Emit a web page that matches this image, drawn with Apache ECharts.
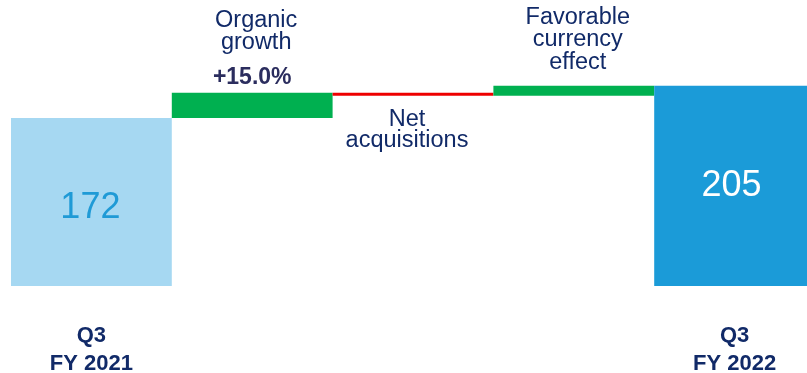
<!DOCTYPE html>
<html>
<head>
<meta charset="utf-8">
<script src="https://cdn.jsdelivr.net/npm/echarts@6/dist/echarts.min.js"></script>
<style>
html,body{margin:0;padding:0;background:#fff;}
#c{width:807px;height:373px;}
</style>
</head>
<body>
<div id="c"></div>
<script>
// ---- data ----
const categories = ['Q3\nFY 2021', 'Organic\ngrowth', 'Net\nacquisitions', 'Favorable\ncurrency\neffect', 'Q3\nFY 2022'];
const startValue = 172;
const changes = [25.8, -3.0, 10.2];   // organic growth, net acquisitions, currency effect
const endValue = 205;
const organicPct = '+15.0%';

// ---- build waterfall ----
const base = [0];
const delta = [startValue];
let running = startValue;
changes.forEach(function (ch) {
  if (ch >= 0) { base.push(running); delta.push(ch); running += ch; }
  else { running += ch; base.push(running); delta.push(-ch); }
});
base.push(0); delta.push(endValue);

const colors = ['#a6d8f2', '#00b050', '#ee0000', '#00b050', '#1b9bd8'];
const navy = '#112a68';
const FONT = '"Liberation Sans", Arial, sans-serif';

const labelCfg = [
  { show: true, position: 'inside', fontSize: 36, color: '#1f9ad6', offset: [-1, 6], formatter: '{c}' },
  { show: true, position: 'top', distance: 3,
    formatter: function (p) { return p.name.split('\n').map(function (s) { return '{a|' + s + '}'; }).join('\n') + '\n{s| }\n{b|' + organicPct + '}'; },
    rich: {
      a: { fontSize: 23.5, lineHeight: 22, color: navy, fontFamily: FONT, padding: [0, 0, 0, 8] },
      s: { fontSize: 4, lineHeight: 12 },
      b: { fontSize: 23, lineHeight: 24, fontWeight: 'bold', color: '#2b2d5e', fontFamily: FONT }
    } },
  { show: true, position: 'bottom', distance: 13, offset: [-6, 0], fontSize: 23.5, lineHeight: 21, color: navy, formatter: function (p) { return p.name; } },
  { show: true, position: 'top', distance: 12, offset: [4, 0], fontSize: 23.5, lineHeight: 22.5, color: navy, formatter: function (p) { return p.name; } },
  { show: true, position: 'inside', fontSize: 36, color: '#ffffff', offset: [-3, 0], formatter: '{c}' }
];

const deltaData = delta.map(function (v, i) {
  return { value: v, itemStyle: { color: colors[i] }, label: labelCfg[i] };
});

const chart = echarts.init(document.getElementById('c'), null, { renderer: 'canvas' });
chart.setOption({
  animation: false,
  textStyle: { fontFamily: FONT },
  grid: { left: 11, top: 71, width: 804, height: 215, outerBoundsMode: 'none', containLabel: false },
  xAxis: {
    type: 'category',
    data: categories,
    axisLine: { show: false },
    axisTick: { show: false },
    axisLabel: {
      interval: 0,
      margin: 35.5,
      fontSize: 22,
      lineHeight: 28,
      fontWeight: 'bold',
      color: navy,
      fontFamily: FONT,
      formatter: function (v, i) { return (i === 0 || i === categories.length - 1) ? v : ''; }
    }
  },
  yAxis: { type: 'value', min: 0, max: 220, show: false, splitLine: { show: false } },
  series: [
    { type: 'bar', stack: 'w', data: base, barWidth: '100%', barCategoryGap: '0%',
      itemStyle: { color: 'rgba(0,0,0,0)' }, silent: true },
    { type: 'bar', stack: 'w', data: deltaData, barWidth: '100%', barCategoryGap: '0%',
      label: { fontFamily: FONT } }
  ]
});
</script>
</body>
</html>
